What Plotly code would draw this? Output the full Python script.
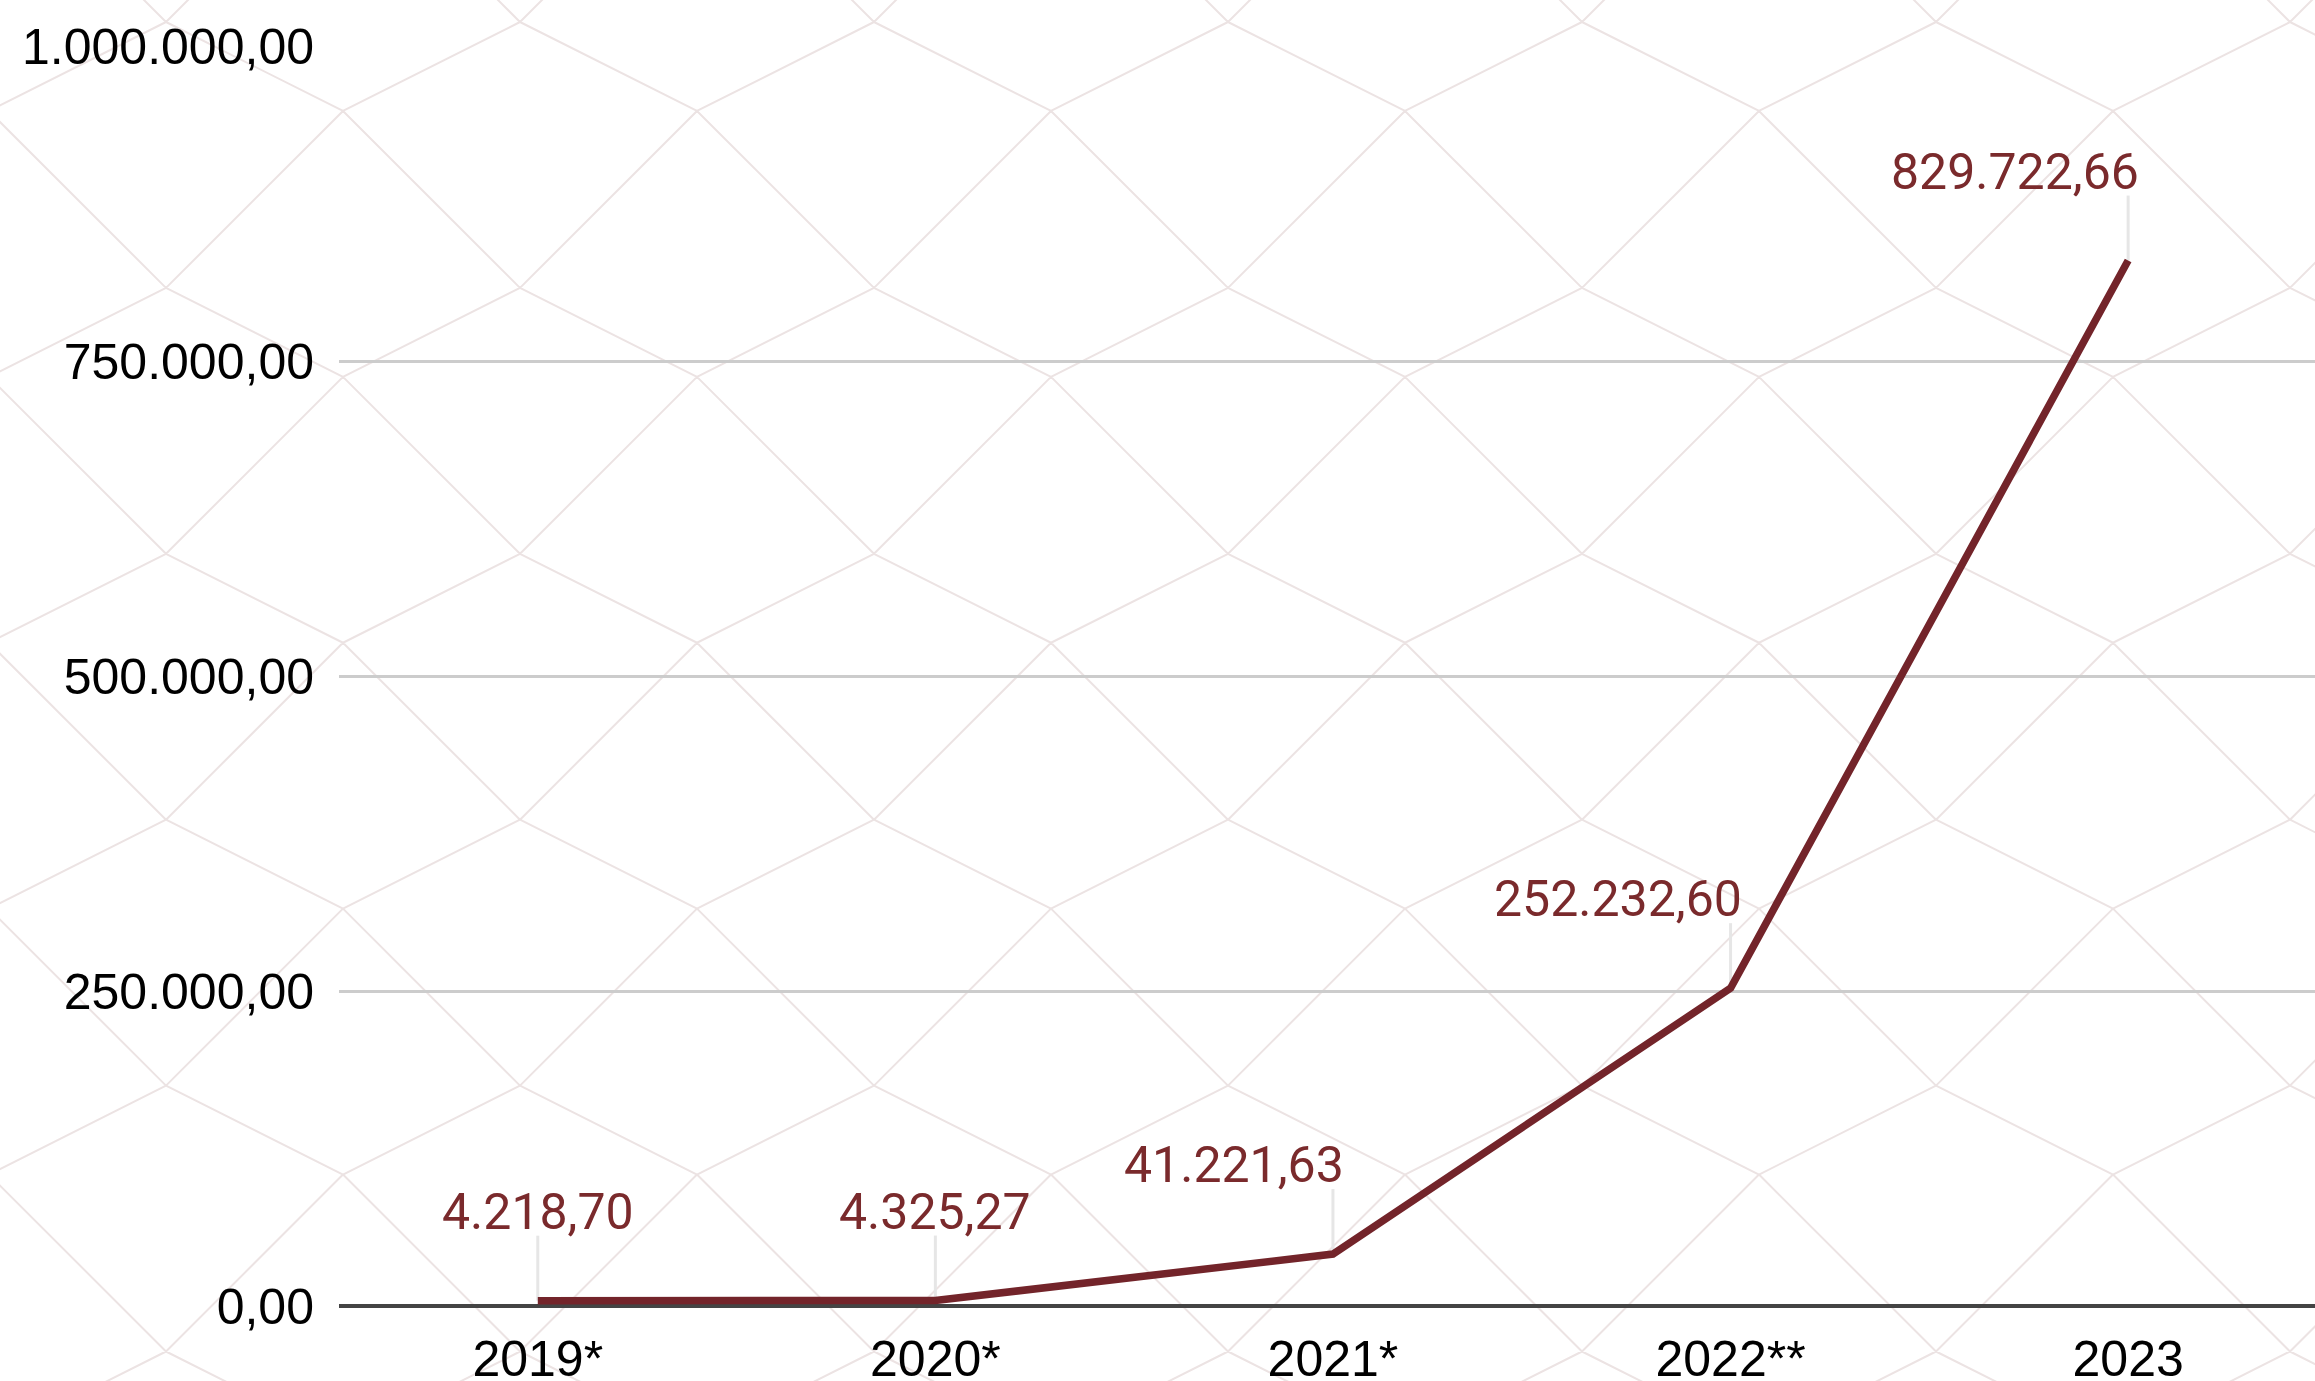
import plotly.graph_objects as go

# ---- data ----
categories = ["2019*", "2020*", "2021*", "2022**", "2023"]
values = [4218.70, 4325.27, 41221.63, 252232.60, 829722.66]
label_anchor = ["center", "center", "right", "right", "right"]
y_ticks = [0, 250000, 500000, 750000, 1000000]

# ---- layout constants (pixels) ----
FIG_W, FIG_H = 2315, 1381
M_L, M_R, M_T, M_B = 339, 0, 46, 74.5
PW = FIG_W - M_L - M_R
PH = FIG_H - M_T - M_B

LINE_COLOR = "#73242a"
LABEL_COLOR = "#7a2a2c"


def fmt(v):
    s = f"{v:,.2f}"
    return s.replace(",", "X").replace(".", ",").replace("X", ".")


fig = go.Figure()
fig.add_trace(go.Scatter(
    x=categories, y=values, mode="lines",
    line=dict(color=LINE_COLOR, width=7.5),
    hoverinfo="skip", showlegend=False,
))

for idx, (v, a) in enumerate(zip(values, label_anchor)):
    # leader line from the point upwards
    fig.add_shape(
        type="line", xref="x", yref="y", x0=idx, x1=idx,
        ysizemode="pixel", yanchor=v, y0=0, y1=65,
        line=dict(color="#e6e6e6", width=3), layer="between",
    )
    fig.add_annotation(
        x=idx, y=v, xref="x", yref="y",
        text=fmt(v), showarrow=False,
        xanchor=a, yanchor="bottom", yshift=59,
        xshift=(12 if a == "right" else 0), borderpad=0,
        font=dict(family="Roboto", size=50, color=LABEL_COLOR),
    )

# ---- decorative background lattice (computed from its period) ----
def to_paper(px, py):
    return (px - M_L) / PW, (M_T + PH - py) / PH

segs = []
PX, PY = 354, 266
for j in range(-2, 8):
    for i in range(-3, 9):
        bx, by = 166 + PX * i, 22 + PY * j
        ax_, ay_ = bx + 177, by + 89
        for (x0, y0, x1, y1) in [
            (bx, by, bx - 177, by + 89), (bx, by, bx + 177, by + 89),
            (ax_, ay_, ax_ - 177, ay_ + 177), (ax_, ay_, ax_ + 177, ay_ + 177),
        ]:
            p0 = to_paper(x0, y0)
            p1 = to_paper(x1, y1)
            segs.append(f"M{p0[0]:.5f},{p0[1]:.5f}L{p1[0]:.5f},{p1[1]:.5f}")

fig.add_shape(type="path", path="".join(segs), xref="paper", yref="paper",
              line=dict(color="#ece3e3", width=2), layer="below")

fig.update_layout(
    width=FIG_W, height=FIG_H,
    margin=dict(l=M_L, r=M_R, t=M_T, b=M_B, pad=0, autoexpand=False),
    paper_bgcolor="white", plot_bgcolor="rgba(0,0,0,0)",
    separators=",.",
    showlegend=False,
    font=dict(family="Liberation Sans, Arial", size=50, color="#000"),
)
fig.update_xaxes(
    type="category", range=[-0.5, 4.47], showgrid=False, zeroline=False,
    showline=False, ticks="", tickfont=dict(size=50, color="#000"),
    ticklabelstandoff=19, automargin=False,
)
fig.update_yaxes(
    range=[0, 1000000], tickvals=y_ticks, tickformat=",.2f",
    showgrid=True, gridcolor="#cccccc", gridwidth=3,
    zeroline=True, zerolinecolor="#444444", zerolinewidth=3.5,
    showline=False, ticks="", ticklabelstandoff=24, automargin=False,
    tickfont=dict(size=50, color="#000"),
)

fig.write_html("out.html", config={"displayModeBar": False},
               post_script="document.body.style.margin='0';")
